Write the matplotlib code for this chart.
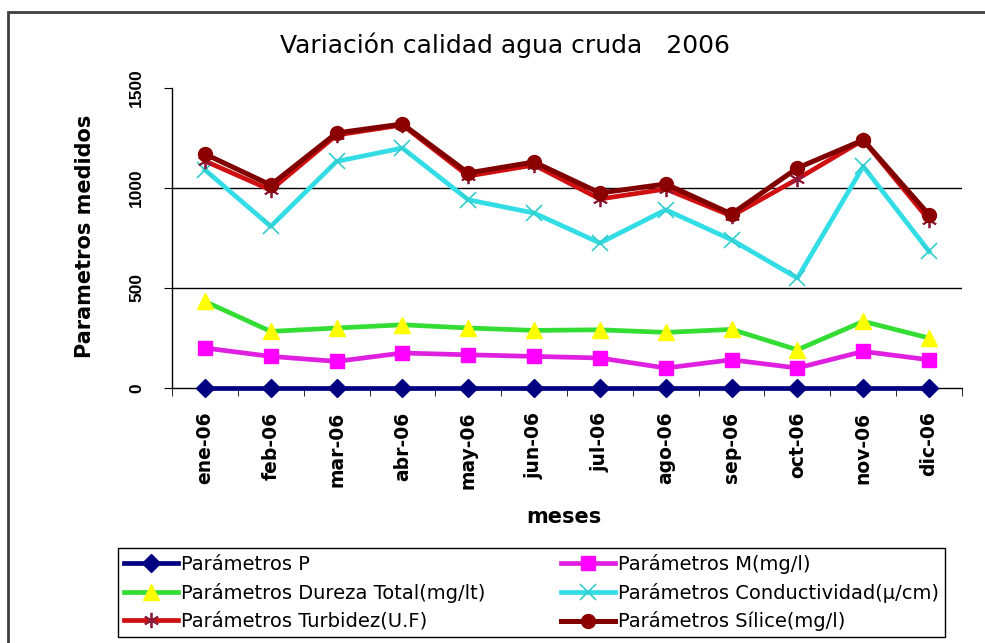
import numpy as np
import matplotlib.pyplot as plt
from matplotlib.patches import Rectangle

# meses y valores
meses = ['ene-06', 'feb-06', 'mar-06', 'abr-06', 'may-06', 'jun-06',
         'jul-06', 'ago-06', 'sep-06', 'oct-06', 'nov-06', 'dic-06']
param_p = [0, 0, 0, 0, 0, 0, 0, 0, 0, 0, 0, 0]
param_m = [200, 158, 133, 175, 166, 158, 150, 100, 141, 100, 183, 141]
dureza = [433, 283, 300, 316, 300, 288, 291, 278, 293, 191, 333, 250]
conductividad = [1091, 808, 1133, 1200, 941, 875, 725, 891, 741, 550, 1108, 683]
turbidez = [1135, 990, 1265, 1315, 1060, 1115, 945, 995, 860, 1045, 1240, 840]
silice = [1170, 1015, 1275, 1320, 1075, 1130, 975, 1020, 870, 1100, 1240, 866]
y_ticks = [0, 500, 1000, 1500]

W, H = 985, 643
fig = plt.figure(figsize=(W / 100, H / 100), dpi=100)
ax = fig.add_axes([172 / W, 1 - 388 / H, 790 / W, 300 / H])

x = np.arange(len(meses))

# lineas de division (sin la de arriba)
for yv in y_ticks[1:-1]:
    ax.axhline(yv, color='black', lw=1, zorder=1)

h_p, = ax.plot(x, param_p, color='#000080', lw=3.4, marker='D', ms=9,
               clip_on=False, zorder=3, label='Parámetros P')
h_m, = ax.plot(x, param_m, color='#E020E0', lw=3.4, marker='s', ms=10,
               mfc='#FF00FF', mec='#FF00FF', zorder=3, label='Parámetros M(mg/l)')
h_d, = ax.plot(x, dureza, color='#33DD33', lw=3.4, marker='^', ms=11,
               mfc='#FFFF00', mec='#FFFF00', zorder=3, label='Parámetros Dureza Total(mg/lt)')
h_c, = ax.plot(x, conductividad, color='#33DDE6', lw=3.4, marker='x', ms=11,
               mew=1.2, mec='#33CCCC', zorder=4, label='Parámetros Conductividad(µ/cm)')
h_t, = ax.plot(x, turbidez, color='#D01010', lw=3.4, marker=(6, 2, 0), ms=11,
               mew=1.3, mec='#8B1A3A', zorder=5, label='Parámetros Turbidez(U.F)')
h_s, = ax.plot(x, silice, color='#800000', lw=3.6, marker='o', ms=10,
               mfc='#8B0000', mec='#8B0000', zorder=6, label='Parámetros Sílice(mg/l)')

ax.set_xlim(-0.5, len(meses) - 0.5)
ax.set_ylim(0, 1500)
for s in ['top', 'right']:
    ax.spines[s].set_visible(False)
for s in ['left', 'bottom']:
    ax.spines[s].set_color('black')
    ax.spines[s].set_linewidth(1)

ax.set_xticks(x)
ax.set_xticklabels(meses, rotation=90, fontsize=13.5, fontweight='bold',
                   family='DejaVu Sans')
ax.set_xticks(np.arange(-0.5, len(meses), 1), minor=True)
ax.tick_params(axis='x', which='major', length=0, pad=17)
ax.tick_params(axis='x', which='minor', length=6, direction='out', color='black')

ax.set_yticks(y_ticks)
ax.set_yticklabels([str(v) for v in y_ticks], rotation=90, va='center',
                   fontsize=12.5, fontweight='bold', family='Liberation Sans')
ax.tick_params(axis='y', length=6, direction='out', pad=14, color='black')

fig.text(505 / W, 1 - 45 / H, 'Variación calidad agua cruda   2006',
         ha='center', va='center', fontsize=18, family='DejaVu Sans')
fig.text(85 / W, 1 - 236 / H, 'Parametros medidos', rotation=90,
         ha='center', va='center', fontsize=15, fontweight='bold', family='DejaVu Sans')
fig.text(564 / W, 1 - 517 / H, 'meses', ha='center', va='center',
         fontsize=15, fontweight='bold', family='DejaVu Sans')

# marco exterior del grafico
fig.patches.append(Rectangle((8 / W, -0.1), 1.2, (H - 12) / H + 0.1,
                             transform=fig.transFigure, fill=False,
                             edgecolor='#404040', lw=2))

handles = [h_p, h_d, h_t, h_m, h_c, h_s]
leg = fig.legend(handles, [h.get_label() for h in handles], loc='upper left',
                 bbox_to_anchor=(118 / W, 1 - 548 / H, (945 - 118) / W, 0),
                 mode='expand', ncol=2, fancybox=False, framealpha=1,
                 edgecolor='black', borderpad=0.3, labelspacing=0.45,
                 handlelength=2.8, handletextpad=0.15, borderaxespad=0,
                 prop={'family': 'DejaVu Sans', 'size': 14})
leg.get_frame().set_linewidth(1)

fig.savefig('out.png', dpi=100)
